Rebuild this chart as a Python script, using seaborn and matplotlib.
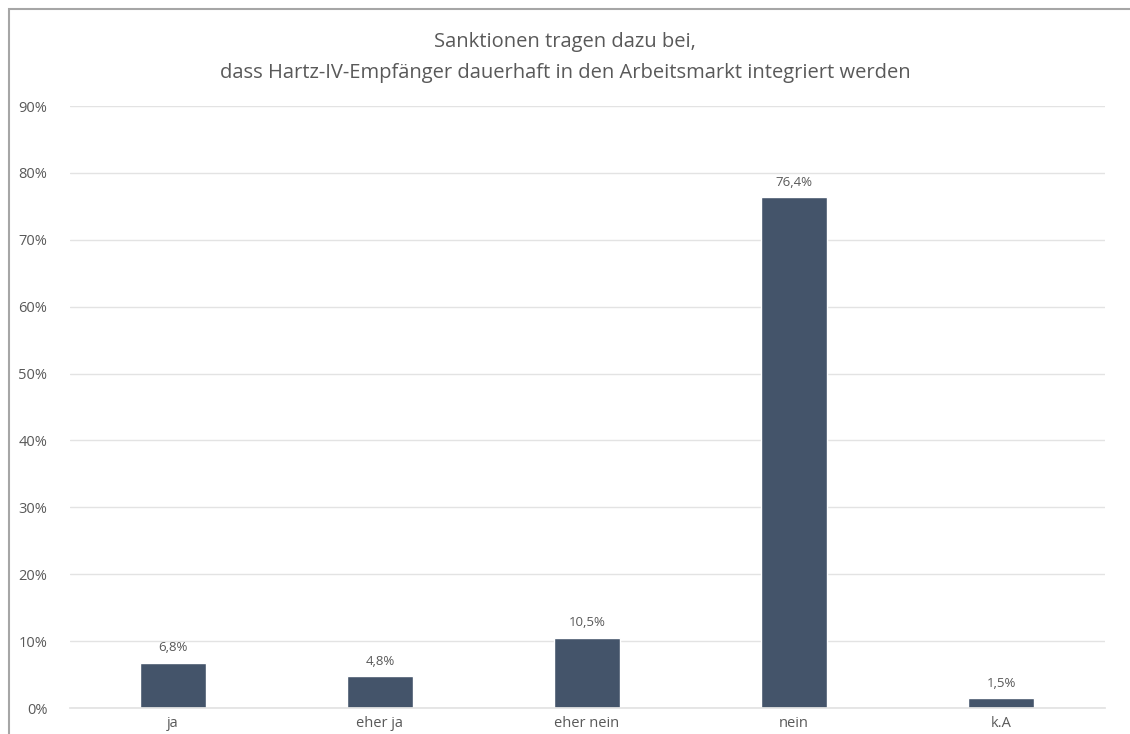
import matplotlib
matplotlib.use("Agg")
import matplotlib.pyplot as plt
import seaborn as sns
import pandas as pd
from matplotlib.patches import Rectangle

categories = ["ja", "eher ja", "eher nein", "nein", "k.A"]
values = [6.8, 4.8, 10.5, 76.4, 1.5]
value_labels = ["6,8%", "4,8%", "10,5%", "76,4%", "1,5%"]
y_ticks = [0, 10, 20, 30, 40, 50, 60, 70, 80, 90]
title_lines = ["Sanktionen tragen dazu bei,",
               "dass Hartz-IV-Empfänger dauerhaft in den Arbeitsmarkt integriert werden"]

df = pd.DataFrame({"Antwort": categories, "Anteil": values})

sns.set_theme(style="white")
plt.rcParams["font.family"] = ["Open Sans", "DejaVu Sans"]

text_color = "#595959"
bar_color = "#44546A"
grid_color = "#E3E3E3"

fig = plt.figure(figsize=(11.3, 7.34), dpi=100)
ax = fig.add_axes([69.5 / 1130, 26 / 734, 1035 / 1130, 602 / 734])

sns.barplot(data=df, x="Antwort", y="Anteil", color=bar_color,
            width=0.315, ax=ax, saturation=1)

ax.set_ylim(0, 90)
ax.set_yticks(y_ticks)
ax.set_yticklabels([f"{t}%" for t in y_ticks])
ax.set_xlim(-0.5, len(categories) - 0.5)
ax.yaxis.grid(True, color=grid_color, linewidth=1)
ax.set_axisbelow(True)
for s in ax.spines.values():
    s.set_visible(False)
ax.spines["bottom"].set_visible(True)
ax.spines["bottom"].set_color(grid_color)
ax.tick_params(axis="both", length=0, colors=text_color, labelsize=10.5)
ax.tick_params(axis="y", pad=16)
ax.tick_params(axis="x", pad=6)
ax.set_xlabel("")
ax.set_ylabel("")

for i, (v, lab) in enumerate(zip(values, value_labels)):
    ax.annotate(lab, (i, v), xytext=(0, 6), textcoords="offset points",
                ha="center", va="bottom", fontsize=9.5, color=text_color)

fig.text(0.5, 1 - 42 / 734, title_lines[0], ha="center", va="center",
         fontsize=14.5, color=text_color)
fig.text(0.5, 1 - 73 / 734, title_lines[1], ha="center", va="center",
         fontsize=14.5, color=text_color)

# chart frame
fig.patches.append(Rectangle((8.5 / 1130, -0.1), 1.2, 1 - 8.5 / 734 + 0.1,
                             transform=fig.transFigure, fill=False,
                             edgecolor="#A6A6A6", linewidth=1.5))

fig.savefig("out.png", dpi=100)
